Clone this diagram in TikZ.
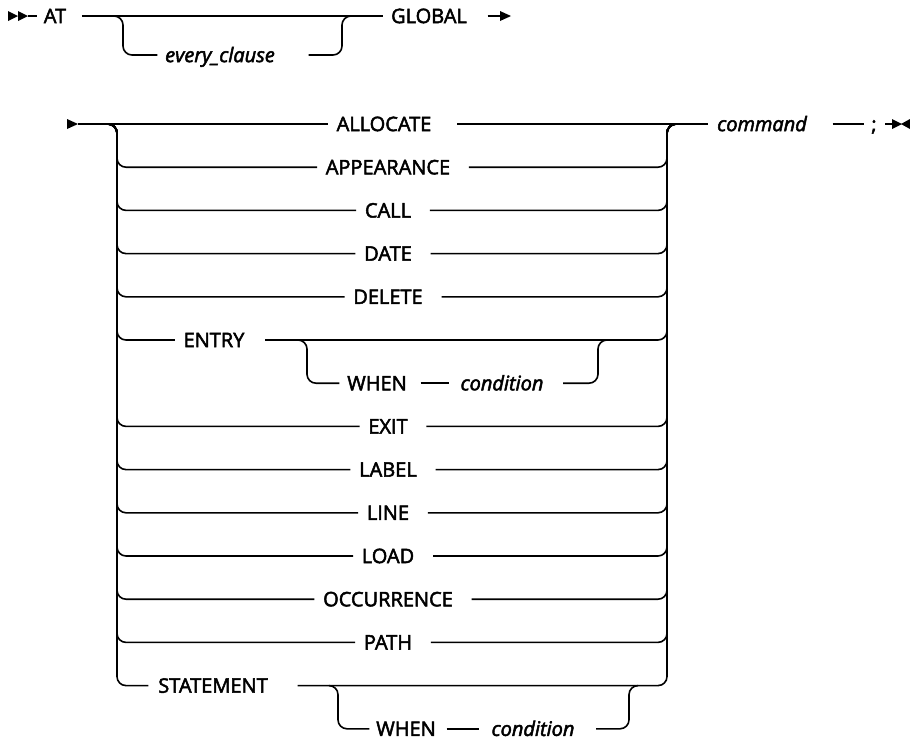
\documentclass[tikz,border=0pt]{standalone}
\usepackage{fontspec}
\setmainfont{Open Sans}
\newfontfamily\kwfont{Open Sans}[FakeBold=2.5]
\begin{document}
\begin{tikzpicture}[x=1pt,y=-1pt,line width=1.6pt,
  rc/.style={rounded corners=9pt},
  kw/.style={font=\kwfont\fontsize{20}{24}\selectfont, inner sep=0pt, text height=14.2pt, text depth=0pt, anchor=center},
  var/.style={kw, font=\kwfont\fontsize{20}{24}\selectfont\itshape},
  tip/.style={fill=black}]
\useasboundingbox (0,0) rectangle (910,740);

% ---------- first line ----------
\fill[tip] (8,11) -- (18,16) -- (8,21) -- cycle;
\fill[tip] (18,11) -- (28,16) -- (18,21) -- cycle;
\coordinate (s1) at (28,16);
\node[kw] (at) at (55,16) {AT};
\node[var] (every) at (220,55) {every\_clause};
\node[kw] (global) at (429,16) {GLOBAL};
\coordinate (ob1) at (113,16);
\coordinate (ob1v) at (123,16);
\coordinate (cb1v) at (342,16);
\coordinate (cb1) at (353,16);
\coordinate (g1) at (501,16);
\draw (s1) -- ([xshift=-6pt]at.west);
\draw ([xshift=15pt]at.east) -- ([xshift=-7pt]global.west);
\draw[rc] (ob1) -- (ob1v) -- (ob1v |- every) -- ([xshift=-7pt]every.west);
\draw[rc] ([xshift=33pt]every.east) -- (cb1v |- every) -- (cb1v) -- (cb1);
\draw ([xshift=20pt]global.east) -- (g1);
\fill[tip] (500,11) -- (511,16) -- (500,21) -- cycle;

% ---------- main line ----------
\fill[tip] (67,119) -- (78,124) -- (67,129) -- cycle;
\coordinate (s2) at (78,124);
\coordinate (split) at (108,124);
\coordinate (lv) at (117,124);
\coordinate (rv) at (667,124);
\coordinate (join) at (677,124);
\node[kw] (allocate) at (384,124) {ALLOCATE};
\node[var] (command) at (762,124) {command};
\node[kw] (semi) at (874,124) {;};
\coordinate (e2) at (892,124);
\draw (s2) -- ([xshift=-8pt]allocate.west);
\draw ([xshift=25pt]allocate.east) -- (join);
\draw (join) -- ([xshift=-8pt]command.west);
\draw ([xshift=25pt]command.east) -- ([xshift=-7pt]semi.west);
\draw ([xshift=8pt]semi.east) -- (e2);
\fill[tip] (892,119) -- (902,124) -- (892,129) -- cycle;
\fill[tip] (910,119) -- (901,124) -- (910,129) -- cycle;

% ---------- simple alternatives ----------
\foreach \n/\t/\i in {appearance/APPEARANCE/1, call/CALL/2, date/DATE/3, delete/DELETE/4,
  exit/EXIT/7, label/LABEL/8, line/LINE/9, load/LOAD/10, occurrence/OCCURRENCE/11, path/PATH/12}{
  \node[kw] (\n) at (388,{124+43.2*\i}) {\t};
  \draw[rc] (split) -- (lv) -- (lv |- \n) -- ([xshift=-8pt]\n.west);
  \draw[rc] ([xshift=18pt]\n.east) -- (rv |- \n) -- (rv) -- (join);
}

% ---------- ENTRY ----------
\node[kw] (entry) at (214,340) {ENTRY};
\draw[rc] (split) -- (lv) -- (lv |- entry) -- ([xshift=-8pt]entry.west);
\draw[rc] ([xshift=20pt]entry.east) -- (rv |- entry) -- (rv) -- (join);
\coordinate (eo) at (297,340);
\coordinate (eov) at (307,340);
\coordinate (ecv) at (598,340);
\coordinate (ec) at (608,340);
\node[kw] (when1) at (377,383.2) {WHEN};
\node[var] (cond1) at (502,383.2) {condition};
\draw[rc] (eo) -- (eov) -- (eov |- when1) -- ([xshift=-7pt]when1.west);
\draw ([xshift=13pt]when1.east) -- ([xshift=-11pt]cond1.west);
\draw[rc] ([xshift=19pt]cond1.east) -- (ecv |- cond1) -- (ecv) -- (ec);

% ---------- STATEMENT ----------
\node[kw] (statement) at (213,685.6) {STATEMENT};
\draw[rc] (split) -- (lv) -- (lv |- statement) -- ([xshift=-9pt]statement.west);
\draw[rc] ([xshift=29pt]statement.east) -- (rv |- statement) -- (rv) -- (join);
\coordinate (so) at (330,685.6);
\coordinate (sov) at (338,685.6);
\coordinate (scv) at (629,685.6);
\coordinate (sc) at (637,685.6);
\node[kw] (when2) at (406,728.8) {WHEN};
\node[var] (cond2) at (533,728.8) {condition};
\draw[rc] (so) -- (sov) -- (sov |- when2) -- ([xshift=-6pt]when2.west);
\draw ([xshift=10pt]when2.east) -- ([xshift=-12pt]cond2.west);
\draw[rc] ([xshift=21pt]cond2.east) -- (scv |- cond2) -- (scv) -- (sc);
\end{tikzpicture}
\end{document}
